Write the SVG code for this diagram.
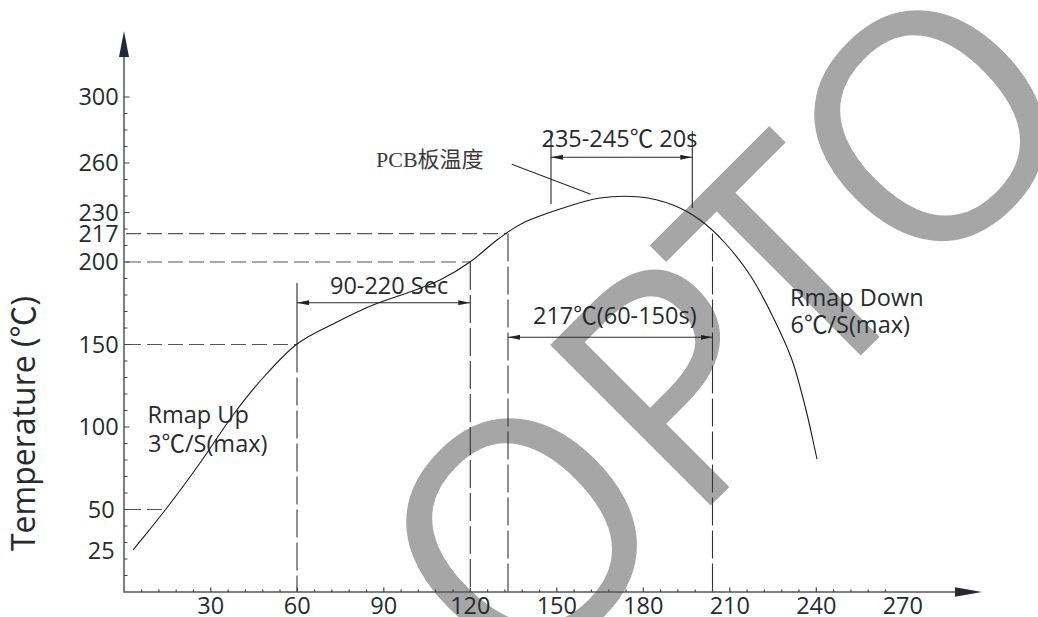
<svg xmlns="http://www.w3.org/2000/svg" width="1038" height="617" viewBox="0 0 1038 617">
<style>
  .t{font-family:'Open Sans','Noto Sans CJK SC',sans-serif;font-size:23.5px;fill:#262b30}
  .ax{stroke:#555;stroke-width:1.5;fill:none}
  .tk{stroke:#444;stroke-width:1.2;fill:none}
  .dh{stroke:#555;stroke-width:1.2;fill:none;stroke-dasharray:15 6}
  .dv{stroke:#333;stroke-width:1.1;fill:none;stroke-dasharray:28 5}
  .ln{stroke:#2a2a2a;stroke-width:1.1;fill:none}
  .dim{stroke:#2a2a2a;stroke-width:1.1;fill:none;marker-start:url(#arr);marker-end:url(#arr)}
</style>
<defs>
  <marker id="arr" viewBox="0 0 12 5" refX="12" refY="2.5" markerWidth="12" markerHeight="5" markerUnits="userSpaceOnUse" orient="auto-start-reverse">
    <path d="M0,0 L12,2.5 L0,5 z" fill="#222"/>
  </marker>
</defs>
<rect width="1038" height="617" fill="#ffffff"/>

<g id="watermark">
  <text transform="rotate(-45)" y="860" font-family="'Open Sans','Liberation Sans',sans-serif" font-size="318" fill="#a6a6a6" stroke="#ffffff" stroke-width="4" paint-order="stroke fill"><tspan x="-132">O</tspan><tspan x="114">P</tspan><tspan x="283">T</tspan><tspan x="445">O</tspan></text>
</g>

<g id="guides">
  <path class="dh" d="M126 233.6H507 M126 262H470 M126 344.5H297 M126 509.5H166"/>
  <path class="ln" d="M297 283V344.5"/>
  <path class="dv" d="M297 344.5V592 M470.3 262V592 M508 233.6V592 M712.5 233.6V592"/>
  <path class="ln" d="M551 131V204 M692.3 131V208"/>
</g>

<g id="axes">
  <path class="ax" d="M124 57V592H956"/>
  <polygon points="124,31 119,57 129,57" fill="#222a33"/>
  <polygon points="982,592 955,587.3 955,596.7" fill="#222a33"/>
  <path class="tk" d="M124 575.5h3.5M124 559h3.5M124 542.5h3.5M124 526h3.5M124 509.5h5.5M124 493h3.5M124 476.5h3.5M124 460h3.5M124 443.5h3.5M124 427h5.5M124 410.5h3.5M124 394h3.5M124 377.5h3.5M124 361h3.5M124 344.5h5.5M124 328h3.5M124 311.5h3.5M124 295h3.5M124 278.5h3.5M124 262h5.5M124 245.5h3.5M124 229h3.5M124 212.5h5.5M124 196h3.5M124 179.5h3.5M124 163h5.5M124 146.5h3.5M124 130h3.5M124 113.5h3.5M124 97h5.5"/>
  <path class="tk" d="M141.6 592v-2.5M158.9 592v-2.5M176.2 592v-2.5M193.5 592v-2.5M210.8 592v-4.5M228.1 592v-2.5M245.4 592v-2.5M262.7 592v-2.5M280 592v-2.5M297.3 592v-4.5M314.6 592v-2.5M331.9 592v-2.5M349.2 592v-2.5M366.5 592v-2.5M383.8 592v-4.5M401.1 592v-2.5M418.4 592v-2.5M435.7 592v-2.5M453 592v-2.5M470.3 592v-4.5M487.6 592v-2.5M504.9 592v-2.5M522.2 592v-2.5M539.5 592v-2.5M556.8 592v-4.5M574.1 592v-2.5M591.4 592v-2.5M608.7 592v-2.5M626 592v-2.5M643.3 592v-4.5M660.6 592v-2.5M677.9 592v-2.5M695.2 592v-2.5M712.5 592v-2.5M729.8 592v-4.5M747.1 592v-2.5M764.4 592v-2.5M781.7 592v-2.5M799 592v-2.5M816.3 592v-4.5M833.6 592v-2.5M850.9 592v-2.5M868.2 592v-2.5M885.5 592v-2.5"/>
</g>

<g id="y-labels" class="t" text-anchor="end">
  <text x="118.7" y="105">300</text>
  <text x="118.7" y="171">260</text>
  <text x="118.7" y="220.5">230</text>
  <text x="118.7" y="241.6">217</text>
  <text x="118.7" y="270">200</text>
  <text x="118.7" y="352.5">150</text>
  <text x="118.7" y="435">100</text>
  <text x="114.7" y="517.5">50</text>
  <text x="114.7" y="559">25</text>
</g>

<g id="x-labels" class="t" text-anchor="middle">
  <text x="210.8" y="613.5">30</text>
  <text x="297.3" y="613.5">60</text>
  <text x="383.8" y="613.5">90</text>
  <text x="470.3" y="613.5">120</text>
  <text x="556.8" y="613.5">150</text>
  <text x="643.3" y="613.5">180</text>
  <text x="729.8" y="613.5">210</text>
  <text x="816.3" y="613.5">240</text>
  <text x="902.8" y="613.5">270</text>
</g>

<g id="y-title">
  <text class="t" transform="translate(35,551) rotate(-90)" style="font-size:32px">Temperature (℃)</text>
</g>

<g id="curve">
  <path stroke="#1a1a1a" stroke-width="1.1" fill="none" d="M133 550C144 536.3 154.8 523.5 166 509C177.2 494.5 188.8 478.7 200 463C211.2 447.3 222.7 429 233 415C243.3 401 251.3 390.8 262 379C272.7 367.2 284.8 353.3 297 344C309.2 334.7 322.3 329.5 335 323C347.7 316.5 361 310 373 305C385 300 395.8 297.2 407 293C418.2 288.8 429.5 285.2 440 280C450.5 274.8 460.5 268.7 470 262C479.5 255.3 488.2 246.5 497 240C505.8 233.5 512.5 228.2 523 223C533.5 217.8 547.2 213.2 560 209C572.8 204.8 586.7 200 600 198C613.3 196 627.8 195.8 640 197C652.2 198.2 663 201.2 673 205C683 208.8 691.3 213.7 700 220C708.7 226.3 716.7 233.8 725 243C733.3 252.2 742.2 263 750 275C757.8 287 765 300.8 772 315C779 329.2 786.3 344.2 792 360C797.7 375.8 801.8 393.5 806 410C810.2 426.5 813.3 442.7 817 459"/>
</g>

<g id="dimensions">
  <path class="dim" d="M297 302.7H470.3"/>
  <text class="t" x="330" y="293.5">90-220 Sec</text>
  <path class="dim" d="M508 337.3H712.5"/>
  <text class="t" x="533" y="324">217℃(60-150s)</text>
  <path class="dim" d="M551 157.3H692.3"/>
  <text class="t" x="541.5" y="147.3">235-245℃ 20s</text>
</g>

<g id="annotations">
  <text x="376" y="166.7" font-family="'Liberation Serif','Noto Sans CJK SC',serif" font-size="22" fill="#3a3a3a">PCB板温度</text>
  <path class="ln" d="M511.7 164.3L590.7 194.3"/>
  <text class="t" x="147.5" y="423.3">Rmap Up</text>
  <text class="t" x="148" y="451.7">3℃/S(max)</text>
  <text class="t" x="790" y="305.7">Rmap Down</text>
  <text class="t" x="790.5" y="333.3">6℃/S(max)</text>
</g>
</svg>
